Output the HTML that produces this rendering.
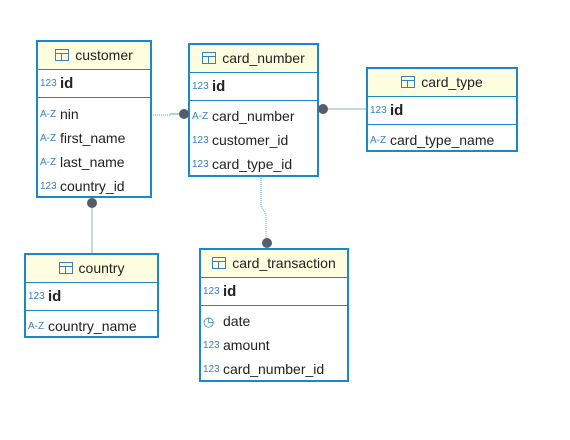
<!DOCTYPE html>
<html><head><style>
body{margin:0;width:570px;height:440px;background:#fff;position:relative;font-family:"Liberation Sans","DejaVu Sans",sans-serif;overflow:hidden}
.t{position:absolute;border:2px solid #1a88c9;background:#fff;box-sizing:border-box}
.h{background:#fefde0;border-bottom:1px solid #1a88c9;height:27px;line-height:27px;font-size:14px;color:#222;text-align:center}
.h i{display:inline-block;width:12px;height:10px;border:1px solid #3a7fc0;margin-right:6px;vertical-align:-1px;background:linear-gradient(#3a7fc0,#3a7fc0) 0 3px/100% 1px no-repeat,linear-gradient(#3a7fc0,#3a7fc0) 5px 3px/1px 100% no-repeat}
.r{height:24px;line-height:24px;font-size:14px;color:#222;padding-left:2px;white-space:nowrap}
.r b{font-size:15px}
.k{display:inline-block;width:18px;font-size:10px;color:#3a7fc0;margin-right:2px;vertical-align:baseline;position:relative;top:-2px}
.pk{border-bottom:1px solid #1a88c9;height:27px;line-height:27px}
.dot{position:absolute;width:10px;height:10px;border-radius:50%;background:#555e68}
</style></head><body>
<svg width="570" height="440" style="position:absolute;left:0;top:0">
<path d="M151 115 H170" stroke="#5aa0cc" stroke-dasharray="1,1" fill="none"/>
<path d="M170 114 H184" stroke="#5aa0cc" fill="none"/>
<path d="M323 109 H366" stroke="#9ab" fill="none"/>
<path d="M92 203 V253" stroke="#9ab" fill="none"/>
<path d="M261 176 V205 L266 215 V242" stroke="#5aa0cc" stroke-dasharray="1,1" fill="none"/>
</svg>
<div class="t" style="left:36px;top:40px;width:116px;height:158px"><div class="h"><i></i>customer</div>
<div class="r pk"><span class="k">123</span><b>id</b></div><div style="height:4px"></div>
<div class="r"><span class="k">A-Z</span>nin</div><div class="r"><span class="k">A-Z</span>first_name</div><div class="r"><span class="k">A-Z</span>last_name</div><div class="r"><span class="k">123</span>country_id</div></div>
<div class="t" style="left:188px;top:43px;width:131px;height:134px"><div class="h"><i></i>card_number</div>
<div class="r pk"><span class="k">123</span><b>id</b></div><div style="height:3px"></div>
<div class="r"><span class="k">A-Z</span>card_number</div><div class="r"><span class="k">123</span>customer_id</div><div class="r"><span class="k">123</span>card_type_id</div></div>
<div class="t" style="left:366px;top:67px;width:152px;height:85px"><div class="h"><i></i>card_type</div>
<div class="r pk"><span class="k">123</span><b>id</b></div><div style="height:3px"></div>
<div class="r"><span class="k">A-Z</span>card_type_name</div></div>
<div class="t" style="left:24px;top:253px;width:135px;height:85px"><div class="h"><i></i>country</div>
<div class="r pk"><span class="k">123</span><b>id</b></div><div style="height:3px"></div>
<div class="r"><span class="k">A-Z</span>country_name</div></div>
<div class="t" style="left:199px;top:248px;width:150px;height:134px"><div class="h"><i></i>card_transaction</div>
<div class="r pk"><span class="k">123</span><b>id</b></div><div style="height:3px"></div>
<div class="r"><span class="k" style="font-size:13px;top:0">◷</span>date</div><div class="r"><span class="k">123</span>amount</div><div class="r"><span class="k">123</span>card_number_id</div></div>
<div class="dot" style="left:179px;top:109px"></div>
<div class="dot" style="left:318px;top:104px"></div>
<div class="dot" style="left:87px;top:198px"></div>
<div class="dot" style="left:262px;top:238px"></div>
</body></html>
